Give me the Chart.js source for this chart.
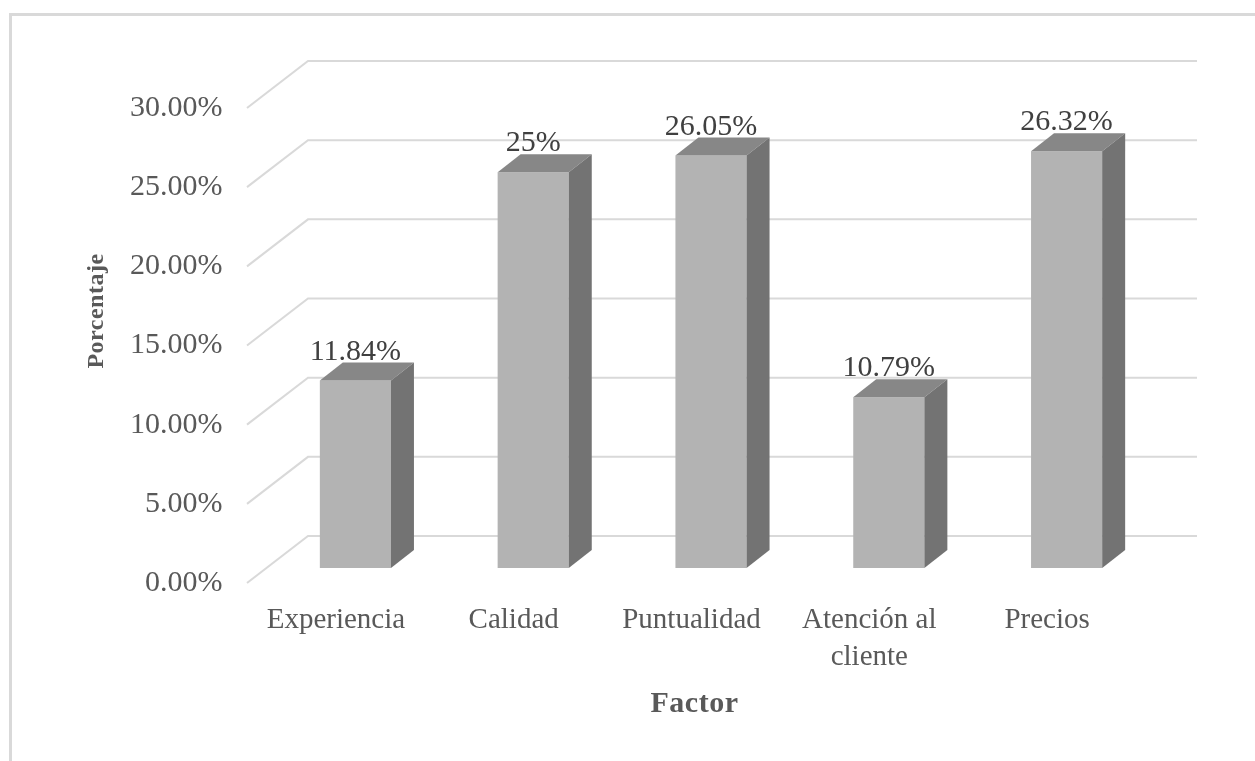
<!DOCTYPE html>
<html>
<head>
<meta charset="utf-8">
<script src="https://cdn.jsdelivr.net/npm/chart.js@4.4.1/dist/chart.umd.min.js"></script>
<style>
  html, body { margin: 0; padding: 0; background: #ffffff; overflow: hidden; }
  canvas { display: block; }
</style>
</head>
<body>
<canvas id="grafico" width="1255" height="761"></canvas>
<script>
// Datos
const factores = ['Experiencia', 'Calidad', 'Puntualidad', ['Atención al', 'cliente'], 'Precios'];
const porcentajes = [11.84, 25, 26.05, 10.79, 26.32];
const ejeYMin = 0;
const ejeYMax = 30;
const ejeYPaso = 5;
const tituloEjeX = 'Factor';
const tituloEjeY = 'Porcentaje';

// Geometría de la perspectiva (píxeles)
const PROF_PARED = { dx: 61, dy: 47 };   // profundidad total del suelo / pared
const PROF_FRENTE = { dx: 19.5, dy: 15 }; // distancia del borde frontal a la cara de las barras
const PROF_BARRA = { dx: 23, dy: 18 };   // fondo de cada barra

const FUENTE = '"Liberation Serif", "Times New Roman", serif';
const COLOR_TEXTO = '#595959';

const plano3d = {
  id: 'plano3d',
  beforeDraw(chart) {
    const { ctx, width, height } = chart;
    ctx.save();
    ctx.fillStyle = '#ffffff';
    ctx.fillRect(0, 0, width, height);
    // marco del área del gráfico
    ctx.strokeStyle = '#d9d9d9';
    ctx.lineWidth = 3;
    ctx.beginPath();
    ctx.moveTo(10.5, height + 5);
    ctx.lineTo(10.5, 14.5);
    ctx.lineTo(width + 5, 14.5);
    ctx.stroke();
    ctx.restore();
  },
  beforeDatasetsDraw(chart) {
    const { ctx, chartArea: a, scales: { y } } = chart;
    ctx.save();
    ctx.strokeStyle = '#d9d9d9';
    ctx.lineWidth = 2;
    y.ticks.forEach(t => {
      const py = y.getPixelForValue(t.value);
      const fx = a.left - PROF_FRENTE.dx, fy = py + PROF_FRENTE.dy;
      const bx = fx + PROF_PARED.dx, by = fy - PROF_PARED.dy;
      ctx.beginPath();
      ctx.moveTo(fx, fy);
      ctx.lineTo(bx, by);
      ctx.lineTo(a.right - PROF_FRENTE.dx + PROF_PARED.dx, by);
      ctx.stroke();
    });
    ctx.restore();
  },
  afterDatasetsDraw(chart) {
    const { ctx } = chart;
    const meta = chart.getDatasetMeta(0);
    ctx.save();
    meta.data.forEach((bar, i) => {
      const { x, y, base, width } = bar.getProps(['x', 'y', 'base', 'width'], true);
      const l = x - width / 2, r = x + width / 2;
      const dx = PROF_BARRA.dx, dy = PROF_BARRA.dy;
      // cara superior
      ctx.fillStyle = '#878787';
      ctx.beginPath();
      ctx.moveTo(l, y);
      ctx.lineTo(l + dx, y - dy);
      ctx.lineTo(r + dx, y - dy);
      ctx.lineTo(r, y);
      ctx.closePath();
      ctx.fill();
      // cara lateral
      ctx.fillStyle = '#737373';
      ctx.beginPath();
      ctx.moveTo(r, y);
      ctx.lineTo(r + dx, y - dy);
      ctx.lineTo(r + dx, base - dy);
      ctx.lineTo(r, base);
      ctx.closePath();
      ctx.fill();
      // etiqueta de valor
      ctx.fillStyle = '#404040';
      ctx.font = '30px ' + FUENTE;
      ctx.textAlign = 'center';
      ctx.textBaseline = 'alphabetic';
      ctx.fillText(porcentajes[i] + '%', x, y - 21);
    });
    ctx.restore();
  },
  afterDraw(chart) {
    const { ctx, chartArea: a } = chart;
    ctx.save();
    ctx.fillStyle = COLOR_TEXTO;
    ctx.textAlign = 'center';
    ctx.textBaseline = 'middle';
    const cx = (a.left + a.right) / 2 - PROF_FRENTE.dx + 3;
    ctx.font = 'bold 30px ' + FUENTE;
    if ('letterSpacing' in ctx) ctx.letterSpacing = '0.5px';
    ctx.fillText(tituloEjeX, cx, 704);
    ctx.font = 'bold 24px ' + FUENTE;
    if ('letterSpacing' in ctx) ctx.letterSpacing = '0.5px';
    ctx.translate(97, 311);
    ctx.rotate(-Math.PI / 2);
    ctx.fillText(tituloEjeY, 0, 0);
    ctx.restore();
  }
};

new Chart(document.getElementById('grafico'), {
  type: 'bar',
  data: {
    labels: factores,
    datasets: [{
      data: porcentajes,
      backgroundColor: '#b3b3b3',
      borderWidth: 0,
      barPercentage: 1,
      categoryPercentage: 0.4
    }]
  },
  options: {
    responsive: false,
    animation: false,
    events: [],
    layout: { padding: { left: 0, top: 93, right: 99.5, bottom: 0 } },
    plugins: { legend: { display: false }, tooltip: { enabled: false } },
    scales: {
      x: {
        grid: { display: false, drawTicks: false },
        border: { display: false },
        ticks: {
          color: COLOR_TEXTO,
          font: { family: FUENTE, size: 29, lineHeight: 1.28 },
          padding: 34,
          labelOffset: -PROF_FRENTE.dx,
          maxRotation: 0,
          autoSkip: false
        },
        afterFit(scale) { scale.height = 761 - 568; }
      },
      y: {
        min: ejeYMin,
        max: ejeYMax,
        grid: { display: false, drawTicks: false },
        border: { display: false },
        ticks: {
          stepSize: ejeYPaso,
          color: COLOR_TEXTO,
          font: { family: FUENTE, size: 30 },
          padding: 44,
          labelOffset: PROF_FRENTE.dy,
          callback: v => v.toFixed(2) + '%'
        },
        afterFit(scale) { scale.width = 266.5; }
      }
    }
  },
  plugins: [plano3d]
});
</script>
</body>
</html>
